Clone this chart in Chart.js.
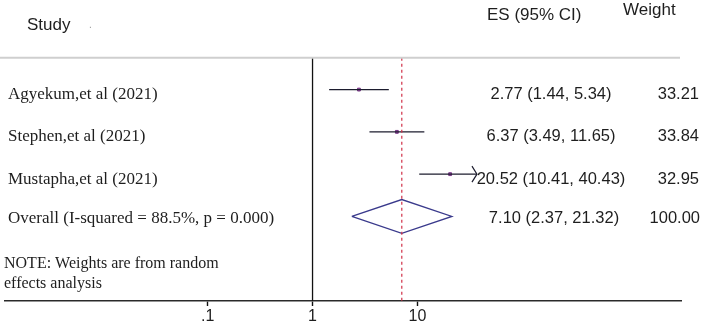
<!DOCTYPE html>
<html>
<head>
<meta charset="utf-8">
<script src="https://cdn.jsdelivr.net/npm/chart.js@4"></script>
<style>
  html, body { margin: 0; padding: 0; background: #fff; }
  #wrap { width: 708px; height: 329px; }
</style>
</head>
<body>
<div id="wrap"><canvas id="forest" width="708" height="329"></canvas></div>
<script>
  const studies = ['Agyekum,et al (2021)', 'Stephen,et al (2021)', 'Mustapha,et al (2021)'];
  const es = [2.77, 6.37, 20.52];
  const ciLow = [1.44, 3.49, 10.41];
  const ciHigh = [5.34, 11.65, 40.43];
  const weights = [33.21, 33.84, 32.95];

  const overallLabel = 'Overall (I-squared = 88.5%, p = 0.000)';
  const overall = { es: 7.10, lo: 2.37, hi: 21.32, weight: 100.00 };

  const xTicks = [0.1, 1, 10];
  const xTickLabels = ['.1', '1', '10'];
  const noteLines = ['NOTE: Weights are from random', 'effects analysis'];

  // plot range in Stata units (CI beyond this gets an arrow)
  const plotMax = 37;
  const overallRow = studies.length + 1;
  const headerRow = 0.25;

  const fmt = n => n.toFixed(2);
  const esText = (e, l, h) => fmt(e) + ' (' + fmt(l) + ', ' + fmt(h) + ')';

  const INK = '#1e1e1e';
  const LINE = '#1c1c2e';
  const SERIF = '"Liberation Serif", "DejaVu Serif", serif';
  const SANS = '"Liberation Sans", Arial, sans-serif';

  const ciSets = studies.map((s, i) => ({
    type: 'line',
    data: [{ x: ciLow[i], y: i + 1 }, { x: Math.min(ciHigh[i], plotMax), y: i + 1 }],
    borderColor: LINE, borderWidth: 1.3, pointRadius: 0, showLine: true
  }));

  const diamondH = 0.4;
  const datasets = [
    {
      type: 'line', label: 'null',
      data: [{ x: 1, y: headerRow }, { x: 1, y: 6 }],
      borderColor: '#111', borderWidth: 1.3, pointRadius: 0, showLine: true
    },
    {
      type: 'line', label: 'overall line',
      data: [{ x: overall.es, y: headerRow }, { x: overall.es, y: 6 }],
      borderColor: '#d03048', borderWidth: 1.2, borderDash: [3, 3], pointRadius: 0, showLine: true
    },
    ...ciSets,
    {
      type: 'line', label: 'diamond',
      data: [
        { x: overall.lo, y: overallRow },
        { x: overall.es, y: overallRow - diamondH },
        { x: overall.hi, y: overallRow },
        { x: overall.es, y: overallRow + diamondH },
        { x: overall.lo, y: overallRow }
      ],
      borderColor: '#3a3a8c', borderWidth: 1.3, pointRadius: 0, showLine: true, tension: 0
    },
    {
      type: 'scatter', label: 'es',
      data: es.map((v, i) => ({ x: v, y: i + 1 })),
      pointStyle: 'rect', pointRadius: 2, backgroundColor: '#9a4ca4', borderColor: '#7a3888', borderWidth: 1
    }
  ];

  const textPlugin = {
    id: 'forestText',
    afterDatasetsDraw(chart) {
      const { ctx, scales } = chart;
      const xs = scales.x, ys = scales.y;
      ctx.save();

      // arrows for clipped CIs
      ctx.strokeStyle = LINE;
      ctx.lineWidth = 1.2;
      ciHigh.forEach((h, i) => {
        if (h <= plotMax) return;
        const tx = xs.getPixelForValue(plotMax), ty = ys.getPixelForValue(i + 1);
        ctx.beginPath();
        ctx.moveTo(tx - 5, ty - 8);
        ctx.lineTo(tx, ty);
        ctx.lineTo(tx - 5, ty + 8);
        ctx.stroke();
      });

      // header rule
      const hy = ys.getPixelForValue(headerRow);
      ctx.strokeStyle = '#cfcfcf';
      ctx.lineWidth = 2;
      ctx.beginPath();
      ctx.moveTo(0, hy);
      ctx.lineTo(680, hy);
      ctx.stroke();

      ctx.fillStyle = INK;
      ctx.textBaseline = 'middle';

      // headers
      ctx.font = '17px ' + SANS;
      ctx.textAlign = 'left';
      ctx.fillText('Study', 27, 25);
      ctx.fillText('ES (95% CI)', 487, 15);
      ctx.fillText('Weight', 623, 10);
      ctx.fillStyle = '#999';
      ctx.font = '10px ' + SANS;
      ctx.fillText('.', 89, 25);
      ctx.fillStyle = INK;

      const rowY = r => ys.getPixelForValue(r) + 5;

      // study labels
      ctx.font = '17px ' + SERIF;
      studies.forEach((s, i) => ctx.fillText(s, 8, rowY(i + 1)));
      ctx.fillText(overallLabel, 8, rowY(overallRow) - 3);

      // ES column
      ctx.font = '16.5px ' + SANS;
      ctx.textAlign = 'center';
      studies.forEach((s, i) => ctx.fillText(esText(es[i], ciLow[i], ciHigh[i]), 551, rowY(i + 1)));
      ctx.fillText(esText(overall.es, overall.lo, overall.hi), 554, rowY(overallRow) - 3);

      // weights
      ctx.textAlign = 'right';
      studies.forEach((s, i) => ctx.fillText(fmt(weights[i]), 699, rowY(i + 1)));
      ctx.fillText(fmt(overall.weight), 700, rowY(overallRow) - 3);

      // note
      ctx.textAlign = 'left';
      ctx.font = '16px ' + SERIF;
      ctx.fillText(noteLines[0], 4, 264);
      ctx.fillText(noteLines[1], 4, 284);

      ctx.restore();
    }
  };

  new Chart(document.getElementById('forest'), {
    data: { datasets },
    options: {
      responsive: false,
      animation: false,
      plugins: { legend: { display: false }, tooltip: { enabled: false } },
      layout: { padding: { left: 0, right: 27, top: 0, bottom: 0 } },
      scales: {
        x: {
          type: 'logarithmic',
          min: 0.001167,
          max: 3266,
          afterBuildTicks: scale => { scale.ticks = xTicks.map(v => ({ value: v })); },
          afterFit: scale => { scale.height = 28; },
          ticks: {
            autoSkip: false,
            maxRotation: 0,
            padding: 1,
            color: INK,
            font: { family: SANS, size: 16 },
            callback: v => xTickLabels[xTicks.indexOf(v)]
          },
          grid: { drawOnChartArea: false, drawTicks: true, tickLength: 5, tickColor: '#111', tickWidth: 1.4 },
          border: { display: true, color: '#2a2a2a', width: 1.6 }
        },
        y: {
          type: 'linear',
          display: false,
          reverse: true,
          min: -1,
          max: 6
        }
      }
    },
    plugins: [textPlugin]
  });
</script>
</body>
</html>
